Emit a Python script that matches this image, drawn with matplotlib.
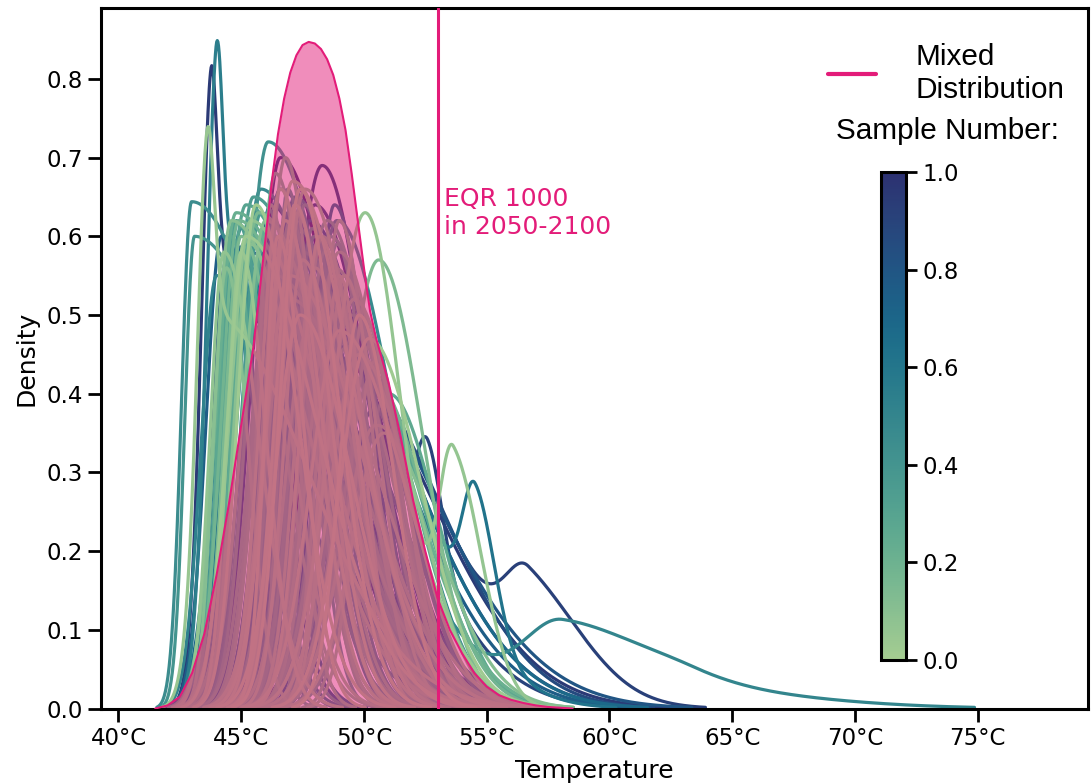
import numpy as np
import matplotlib.pyplot as plt
import seaborn as sns
from matplotlib.cm import ScalarMappable
from matplotlib.colors import Normalize
from matplotlib.lines import Line2D

sns.set_theme(context="talk", style="ticks")
plt.rcParams.update({
    "font.family": ["DejaVu Sans"],
    "text.color": "black",
    "axes.labelcolor": "black",
    "axes.edgecolor": "black",
    "xtick.color": "black",
    "ytick.color": "black",
})

# mixed distribution (temperature in degC, density)
mixed_temp = [41.5, 42.0, 42.5, 43.0, 43.5, 44.0, 44.5, 45.0, 45.5, 45.75,
              46.0, 46.25, 46.5, 46.75, 47.0, 47.25, 47.5, 47.75, 48.0, 48.25,
              48.5, 48.75, 49.0, 49.25, 49.5, 49.75, 50.0, 50.25, 50.5, 51.0,
              51.5, 52.0, 52.5, 53.0, 53.5, 54.0, 54.5, 55.0, 55.5, 56.0,
              56.5, 57.0, 57.5, 58.0, 58.5]
mixed_dens = [0.0, 0.004, 0.015, 0.045, 0.095, 0.17, 0.26, 0.36, 0.46, 0.53,
              0.60, 0.67, 0.73, 0.775, 0.808, 0.83, 0.843, 0.847, 0.845, 0.838,
              0.825, 0.805, 0.775, 0.735, 0.68, 0.62, 0.56, 0.505, 0.47, 0.415,
              0.345, 0.265, 0.20, 0.14, 0.10, 0.07, 0.045, 0.028, 0.017, 0.011,
              0.007, 0.004, 0.002, 0.001, 0.0]

# one density curve per sample: foot on the left, mode, peak height,
# foot on the right (degC) and the normalised sample number
curve_start = [41.75, 41.9, 42.4, 42.3, 42.0, 42.3, 42.5, 42.4, 42.6, 42.7,
               42.5, 42.8, 42.7, 42.9, 43.0, 42.6, 42.9, 43.1, 43.0, 43.2,
               42.3, 42.8, 43.1, 42.1, 43.3,
               43.5, 43.8, 43.6, 44.0, 43.9, 44.2, 44.5, 44.3, 44.6, 44.0,
               44.8, 43.7, 44.4, 44.9, 45.0, 43.6, 44.1, 44.7, 45.2, 44.5,
               43.9, 45.1, 44.2, 44.8, 45.3, 44.0, 45.0, 44.6, 45.4, 44.3,
               43.8, 45.5, 44.7, 45.6, 44.9,
               46.0, 46.5, 45.8, 46.2, 46.0, 46.8, 45.5, 46.4, 46.0, 46.6,
               45.8, 47.0, 46.3, 45.9, 46.7, 47.2, 46.5,
               44.0, 44.5, 45.0, 44.2, 45.5, 44.8, 44.5, 43.2, 45.0, 44.0,
               42.6, 42.9, 43.2, 43.0, 42.8, 43.4, 43.1, 43.6, 42.7, 43.3,
               43.5, 43.8,
               45.8, 46.2, 46.6, 47.0, 46.0, 47.4, 46.4, 47.8, 45.6, 46.9,
               47.2, 46.5, 48.0,
               44.2, 44.6, 45.0, 44.4, 45.3, 44.8, 45.5, 44.0, 45.2, 44.9,
               44.4, 44.8, 45.2, 45.6, 44.6, 45.0, 45.4, 45.8, 44.5, 45.3,
               45.9, 45.1,
               42.8, 43.0, 43.3, 43.6, 44.6, 44.9, 45.2, 45.5, 46.8, 47.3]
curve_mode = [42.98, 43.1, 44.2, 43.9, 43.8, 44.2, 44.6, 44.8, 44.4, 45.0,
              45.2, 45.4, 45.1, 45.5, 45.7, 45.3, 45.2, 45.8, 45.6, 46.0,
              44.7, 44.9, 45.4, 44.0, 46.1,
              46.0, 46.6, 46.3, 46.8, 47.0, 47.2, 48.3, 47.5, 47.8, 47.0,
              48.0, 46.6, 47.4, 48.2, 48.5, 46.2, 46.9, 47.6, 48.4, 47.3,
              46.4, 48.0, 47.1, 47.9, 48.6, 46.7, 47.7, 47.0, 48.8, 46.5,
              45.8, 49.0, 47.5, 48.9, 47.2,
              50.05, 50.6, 49.5, 49.8, 49.2, 50.3, 49.0, 50.0, 49.6, 50.4,
              49.3, 50.8, 49.9, 48.8, 50.2, 51.0, 50.5,
              47.0, 48.0, 48.5, 47.5, 49.5, 48.2, 48.0, 46.0, 49.0, 47.8,
              44.3, 44.8, 45.2, 45.0, 44.6, 45.6, 45.1, 46.0, 44.5, 45.4,
              45.8, 46.3,
              48.2, 48.6, 49.0, 49.4, 48.4, 49.8, 48.8, 50.2, 47.9, 49.2,
              49.6, 48.9, 50.4,
              46.6, 47.0, 47.4, 46.8, 47.8, 47.2, 48.0, 46.4, 47.6, 47.3,
              46.8, 47.2, 47.6, 48.0, 47.0, 47.4, 47.8, 48.3, 46.9, 47.5,
              48.5, 47.1,
              44.4, 44.6, 45.0, 45.3, 46.2, 46.5, 46.9, 47.1, 49.0, 49.3]
curve_peak = [0.644, 0.60, 0.58, 0.56, 0.50, 0.60, 0.62, 0.63, 0.57, 0.61,
              0.64, 0.62, 0.59, 0.65, 0.63, 0.58, 0.60, 0.66, 0.56, 0.62,
              0.56, 0.62, 0.60, 0.55, 0.72,
              0.60, 0.70, 0.58, 0.62, 0.55, 0.65, 0.69, 0.58, 0.62, 0.52,
              0.60, 0.66, 0.50, 0.57, 0.62, 0.64, 0.57, 0.66, 0.55, 0.61,
              0.55, 0.64, 0.67, 0.53, 0.60, 0.59, 0.48, 0.63, 0.56, 0.54,
              0.58, 0.58, 0.45, 0.62, 0.56,
              0.63, 0.57, 0.50, 0.45, 0.55, 0.42, 0.48, 0.40, 0.52, 0.38,
              0.46, 0.35, 0.44, 0.50, 0.47, 0.40, 0.36,
              0.55, 0.50, 0.45, 0.52, 0.42, 0.48, 0.50, 0.60, 0.46, 0.50,
              0.58, 0.62, 0.55, 0.60, 0.52, 0.64, 0.57, 0.61, 0.54, 0.59,
              0.63, 0.56,
              0.60, 0.56, 0.62, 0.52, 0.58, 0.50, 0.64, 0.46, 0.61, 0.55,
              0.48, 0.59, 0.44,
              0.66, 0.62, 0.58, 0.70, 0.55, 0.64, 0.60, 0.68, 0.57, 0.63,
              0.62, 0.58, 0.64, 0.56, 0.60, 0.66, 0.54, 0.60, 0.63, 0.57,
              0.52, 0.59,
              0.56, 0.60, 0.58, 0.62, 0.64, 0.60, 0.66, 0.58, 0.55, 0.50]
curve_end = [53.5, 54.5, 55.0, 54.5, 55.5, 54.0, 53.5, 55.0, 54.0, 55.5,
             54.5, 54.0, 56.0, 54.5, 55.0, 56.5, 53.8, 54.5, 55.5, 54.0,
             56.0, 53.6, 55.0, 55.0, 54.5,
             54.5, 54.0, 55.0, 54.0, 55.5, 54.5, 54.0, 55.0, 55.5, 56.0,
             54.0, 54.8, 53.5, 55.0, 54.5, 53.8, 55.2, 54.2, 56.0, 53.8,
             55.8, 55.0, 54.6, 53.9, 55.4, 54.3, 56.5, 53.7, 55.5, 55.0,
             54.2, 54.8, 57.0, 55.8, 54.0,
             54.5, 56.0, 56.5, 56.0, 55.0, 57.0, 56.8, 55.8, 55.2, 56.5,
             57.5, 56.2, 57.2, 55.6, 56.6, 57.0, 57.8,
             59.0, 60.0, 61.0, 59.5, 60.5, 60.0, 61.2, 58.3, 59.0, 61.5,
             48.5, 49.0, 49.5, 50.0, 48.0, 50.5, 49.2, 51.0, 48.8, 50.2,
             51.5, 51.8,
             52.5, 53.0, 52.8, 53.5, 52.2, 54.0, 53.2, 54.2, 52.0, 53.4,
             53.8, 52.6, 54.5,
             50.8, 51.2, 51.6, 50.5, 52.0, 51.4, 52.4, 50.6, 51.8, 51.0,
             51.2, 51.8, 52.3, 52.8, 51.5, 52.0, 53.0, 53.3, 51.0, 52.5,
             53.5, 51.6,
             47.0, 47.6, 48.0, 48.4, 49.2, 49.6, 50.0, 50.4, 52.0, 52.4]
curve_sample = [0.45, 0.40, 0.55, 0.95, 0.05, 0.75, 0.10, 0.22, 0.85, 0.62,
                0.30, 0.08, 0.68, 0.35, 0.15, 0.80, 0.03, 0.48, 0.58, 0.12,
                0.70, 0.18, 0.26, 0.52, 0.42,
                0.33, 0.97, 0.20, 0.60, 0.07, 0.50, 0.90, 0.28, 0.72, 0.14,
                0.38, 0.65, 0.02, 0.56, 0.24, 0.78, 0.44, 0.09, 0.82, 0.31,
                0.16, 0.88, 0.04, 0.66, 0.27, 0.53, 0.11, 0.74, 0.19, 0.36,
                0.86, 0.13, 0.58, 0.47, 0.23,
                0.06, 0.14, 0.25, 0.09, 0.32, 0.18, 0.04, 0.39, 0.12, 0.55,
                0.21, 0.08, 0.30, 0.16, 0.02, 0.26, 0.11,
                0.90, 0.82, 0.95, 0.75, 0.86, 0.68, 0.92, 0.50, 0.62, 0.80,
                0.07, 0.33, 0.61, 0.15, 0.44, 0.02, 0.72, 0.24, 0.52, 0.10,
                0.37, 0.19,
                0.05, 0.29, 0.13, 0.47, 0.21, 0.01, 0.64, 0.17, 0.34, 0.09,
                0.41, 0.27, 0.12,
                0.06, 0.22, 0.49, 0.14, 0.31, 0.03, 0.57, 0.18, 0.40, 0.08,
                0.04, 0.16, 0.28, 0.09, 0.35, 0.01, 0.23, 0.13, 0.46, 0.07,
                0.19, 0.30,
                0.11, 0.27, 0.05, 0.38, 0.15, 0.02, 0.33, 0.20, 0.08, 0.25]

# secondary bumps on some curves: curve index, position, height,
# left and right width (degC)
bump_curve = [2, 3, 4, 60, 77, 85, 83, 84, 84]
bump_temp = [43.97, 43.76, 43.59, 53.64, 52.6, 54.53, 56.7, 58.1, 63.5]
bump_height = [0.30, 0.27, 0.26, 0.30, 0.135, 0.17, 0.11, 0.105, 0.02]
bump_left = [0.35, 0.35, 0.35, 0.6, 0.45, 0.5, 0.9, 1.6, 2.0]
bump_right = [0.25, 0.25, 0.3, 1.2, 0.6, 0.8, 2.3, 3.5, 5.0]

eqr_temp = 53.0
x_ticks = [40, 45, 50, 55, 60, 65, 70, 75]
y_ticks = [0.0, 0.1, 0.2, 0.3, 0.4, 0.5, 0.6, 0.7, 0.8]
cbar_ticks = [0.0, 0.2, 0.4, 0.6, 0.8, 1.0]


def half_gauss(x, centre, height, w_left, w_right):
    w = np.where(x < centre, w_left, w_right)
    return height * np.exp(-0.5 * ((x - centre) / w) ** 2)


cmap = sns.color_palette("crest", as_cmap=True)
pink = "#e31c79"

fig = plt.figure(figsize=(10.91, 7.83), dpi=100)
ax = fig.add_axes([0.0926, 0.0951, 0.9047, 0.8946])

x = np.linspace(39.3, 79.5, 1600)
# darker (higher sample number) curves first, light green ones on top
order = np.argsort(curve_sample)[::-1]
for i in order:
    sl = (curve_mode[i] - curve_start[i]) / 3
    sr = (curve_end[i] - curve_mode[i]) / 3
    y = half_gauss(x, curve_mode[i], curve_peak[i], sl, sr)
    for j in range(len(bump_curve)):
        if bump_curve[j] == i:
            y = y + half_gauss(x, bump_temp[j], bump_height[j],
                               bump_left[j], bump_right[j])
    y = np.where(y > 0.0015, y, np.nan)
    ax.plot(x, y, color=cmap(curve_sample[i]), lw=2.3, zorder=1)

ax.fill_between(mixed_temp, mixed_dens, color=pink, alpha=0.5, lw=0, zorder=2)
ax.plot(mixed_temp, mixed_dens, color=pink, lw=1.5, zorder=3)
ax.axvline(eqr_temp, color=pink, lw=2.2, zorder=3)
ax.text(eqr_temp + 0.28, 0.597, "EQR 1000\nin 2050-2100", color=pink,
        fontsize=18, va="bottom", ha="left")

ax.set_xlim(39.29, 79.5)
ax.set_ylim(0, 0.89)
ax.set_xticks(x_ticks)
ax.set_xticklabels([f"{t}°C" for t in x_ticks])
ax.set_yticks(y_ticks)
ax.set_xlabel("Temperature", labelpad=7)
ax.set_ylabel("Density", labelpad=6)
for s in ax.spines.values():
    s.set_linewidth(2.2)
ax.tick_params(length=9.5, width=2)

handle = Line2D([], [], color=pink, lw=3)
ax.legend([handle], ["Mixed\nDistribution"], loc="upper left",
          bbox_to_anchor=(0.7095, 0.988), frameon=False, handlelength=1.62,
          handletextpad=1.31, prop={"family": "Liberation Sans", "size": 21.4})
ax.text(0.7447, 0.8126, "Sample Number:", transform=ax.transAxes,
        family="Liberation Sans", fontsize=21.4, va="baseline", ha="left")

cax = ax.inset_axes([0.7903, 0.0692, 0.0253, 0.6966])
cb = fig.colorbar(ScalarMappable(Normalize(0, 1), cmap), cax=cax)
cb.set_ticks(cbar_ticks)
cb.outline.set_linewidth(2.2)
cax.tick_params(length=8, width=2)

fig.savefig("out.png", dpi=100)
